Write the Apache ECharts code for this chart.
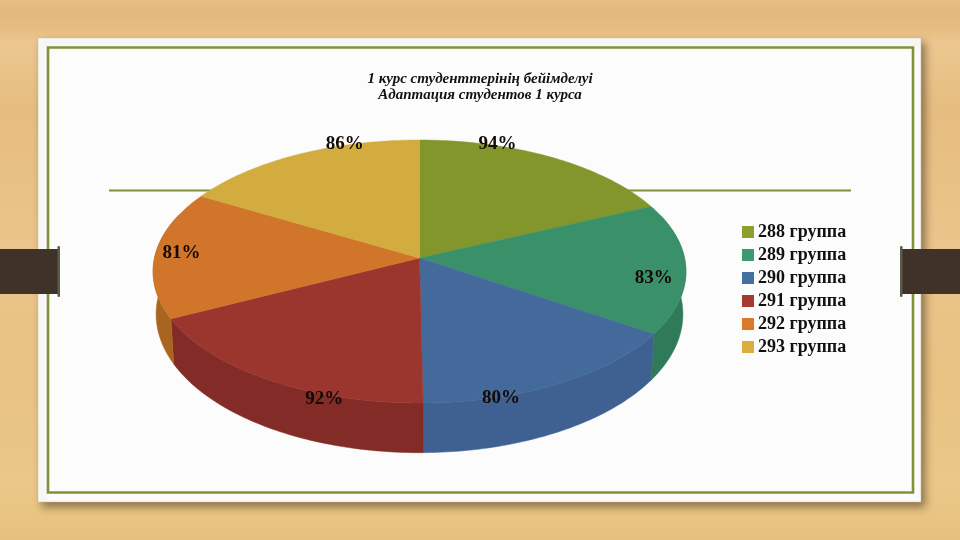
<!DOCTYPE html>
<html><head><meta charset="utf-8">
<style>html,body{margin:0;padding:0;background:#e8c282}#c{width:960px;height:540px}</style>
<script src="https://cdn.jsdelivr.net/npm/echarts@6/dist/echarts.min.js"></script>
</head><body><div id="c"></div>
<script>
const titleLines = ['1 курс студенттерінің бейімделуі', 'Адаптация студентов 1 курса'];
const groups = ['288 группа', '289 группа', '290 группа', '291 группа', '292 группа', '293 группа'];
const percents = [94, 83, 80, 92, 81, 86];

const topColors = ['#82962c', '#3a9068', '#436a9a', '#9b362f', '#d0752a', '#d2ac3e'];
const wallColors = ['#66761f', '#2f7a59', '#3e6191', '#822b27', '#a9641f', '#a8892f'];
const legendColors = ['#8e9e2a', '#3d9970', '#44709f', '#a5382f', '#d97a2a', '#dcae3e'];
const labelOffsets = [[-54, -13], [-32, 10], [-58, 15], [56, 19], [26, -1], [47, -10]];

// Perspective of the tilted disc: the apex is not the ellipse centre.
const view = {cx: 419.5, cy: 258, A: 265, B: 130.1, k: 0.1027, A2: 262, B2: 137, d: 42};
function rim(deg, bottom) {
  const r = deg * Math.PI / 180, u = Math.sin(r), v = -Math.cos(r), w = 1 - view.k * v;
  return bottom
    ? [view.cx + view.A2 * u / w, view.cy + view.d + view.B2 * v / w]
    : [view.cx + view.A * u / w, view.cy + view.B * v / w];
}
function arc(a0, a1, bottom) {
  const pts = [], n = Math.max(2, Math.ceil(Math.abs(a1 - a0)));
  for (let i = 0; i <= n; i++) pts.push(rim(a0 + (a1 - a0) * i / n, bottom));
  return pts;
}
const total = percents.reduce((a, b) => a + b, 0);
let running = 0;
const slices = percents.map(p => { const s = [p, running, total]; running += p; return s; });

function renderSlice(params, api) {
  const i = params.seriesIndex;
  const val = api.value(0), a0 = api.value(1) / api.value(2) * 360, a1 = (api.value(1) + val) / api.value(2) * 360;
  const children = [];
  const w0 = Math.max(a0, 70), w1 = Math.min(a1, 290);
  if (w1 > w0) {
    children.push({type: 'polygon', z2: 1,
      shape: {points: arc(w0, w1, false).concat(arc(w1, w0, true))},
      style: {fill: wallColors[i], stroke: wallColors[i], lineWidth: 0.5}});
  }
  children.push({type: 'polygon', z2: 10,
    shape: {points: [[view.cx, view.cy]].concat(arc(a0, a1, false))},
    style: {fill: topColors[i], stroke: topColors[i], lineWidth: 0.5}});
  const m = rim((a0 + a1) / 2, false);
  children.push({type: 'text', z2: 20, x: m[0] + labelOffsets[i][0], y: m[1] + labelOffsets[i][1],
    style: {text: val + '%', fill: '#120a05', font: 'bold 19px "Liberation Serif"', align: 'center', verticalAlign: 'middle'}});
  return {type: 'group', children};
}

const woodStops = [[0, '#e7bf85'], [0.02, '#e3b77d'], [0.05, '#e6bc81'], [0.08, '#ebc78f'], [0.2, '#e6bd80'],
  [0.45, '#eac48a'], [0.7, '#e8c283'], [0.9, '#eac887'], [1, '#e7c07e']];
const graphic = [
  {type: 'rect', z: 0, shape: {x: 0, y: 0, width: 960, height: 540},
    style: {fill: {type: 'linear', x: 0, y: 0, x2: 0, y2: 1, colorStops: woodStops.map(s => ({offset: s[0], color: s[1]}))}}},
  {type: 'rect', z: 0, shape: {x: 38, y: 38, width: 883, height: 464},
    style: {fill: '#fcfcfc', stroke: '#c9bd97', lineWidth: 0.5, shadowBlur: 8, shadowOffsetX: 4, shadowOffsetY: 5, shadowColor: 'rgba(70,50,30,0.55)'}},
  {type: 'rect', z: 0, shape: {x: 48, y: 47.5, width: 865, height: 445},
    style: {fill: 'none', stroke: '#7f9238', lineWidth: 2.6}},
  {type: 'line', z: 0, shape: {x1: 109, y1: 190.5, x2: 851, y2: 190.5}, style: {stroke: '#7f9238', lineWidth: 2}},
  {type: 'rect', z: 1, shape: {x: 0, y: 249, width: 60, height: 45}, style: {fill: '#3f3229'}},
  {type: 'rect', z: 1, shape: {x: 57.5, y: 246, width: 2.5, height: 51, r: 1.2}, style: {fill: '#5f594d'}},
  {type: 'rect', z: 1, shape: {x: 900, y: 249, width: 60, height: 45}, style: {fill: '#3f3229'}},
  {type: 'rect', z: 1, shape: {x: 900, y: 246, width: 2.5, height: 51, r: 1.2}, style: {fill: '#5f594d'}}
];

const chart = echarts.init(document.getElementById('c'));
chart.setOption({
  animation: false,
  graphic: graphic,
  title: {
    text: titleLines.join('\n'), left: 475, top: 66, textAlign: 'center',
    textStyle: {fontFamily: 'Liberation Serif', fontWeight: 'bold', fontStyle: 'italic', fontSize: 15, lineHeight: 16, color: '#111'}
  },
  legend: {
    orient: 'vertical', left: 737, top: 218, itemWidth: 12, itemHeight: 12, itemGap: 5, icon: 'rect',
    selectedMode: false,
    textStyle: {fontFamily: 'Liberation Serif', fontWeight: 'bold', fontSize: 18, color: '#111', padding: [0, 0, 0, -1], lineHeight: 18},
    data: groups.map((name, i) => ({name, itemStyle: {color: legendColors[i]}}))
  },
  series: groups.map((name, i) => ({
    type: 'custom', name, coordinateSystem: 'none', silent: true,
    itemStyle: {color: topColors[i]},
    renderItem: renderSlice,
    data: [slices[i]]
  }))
});
</script></body></html>
